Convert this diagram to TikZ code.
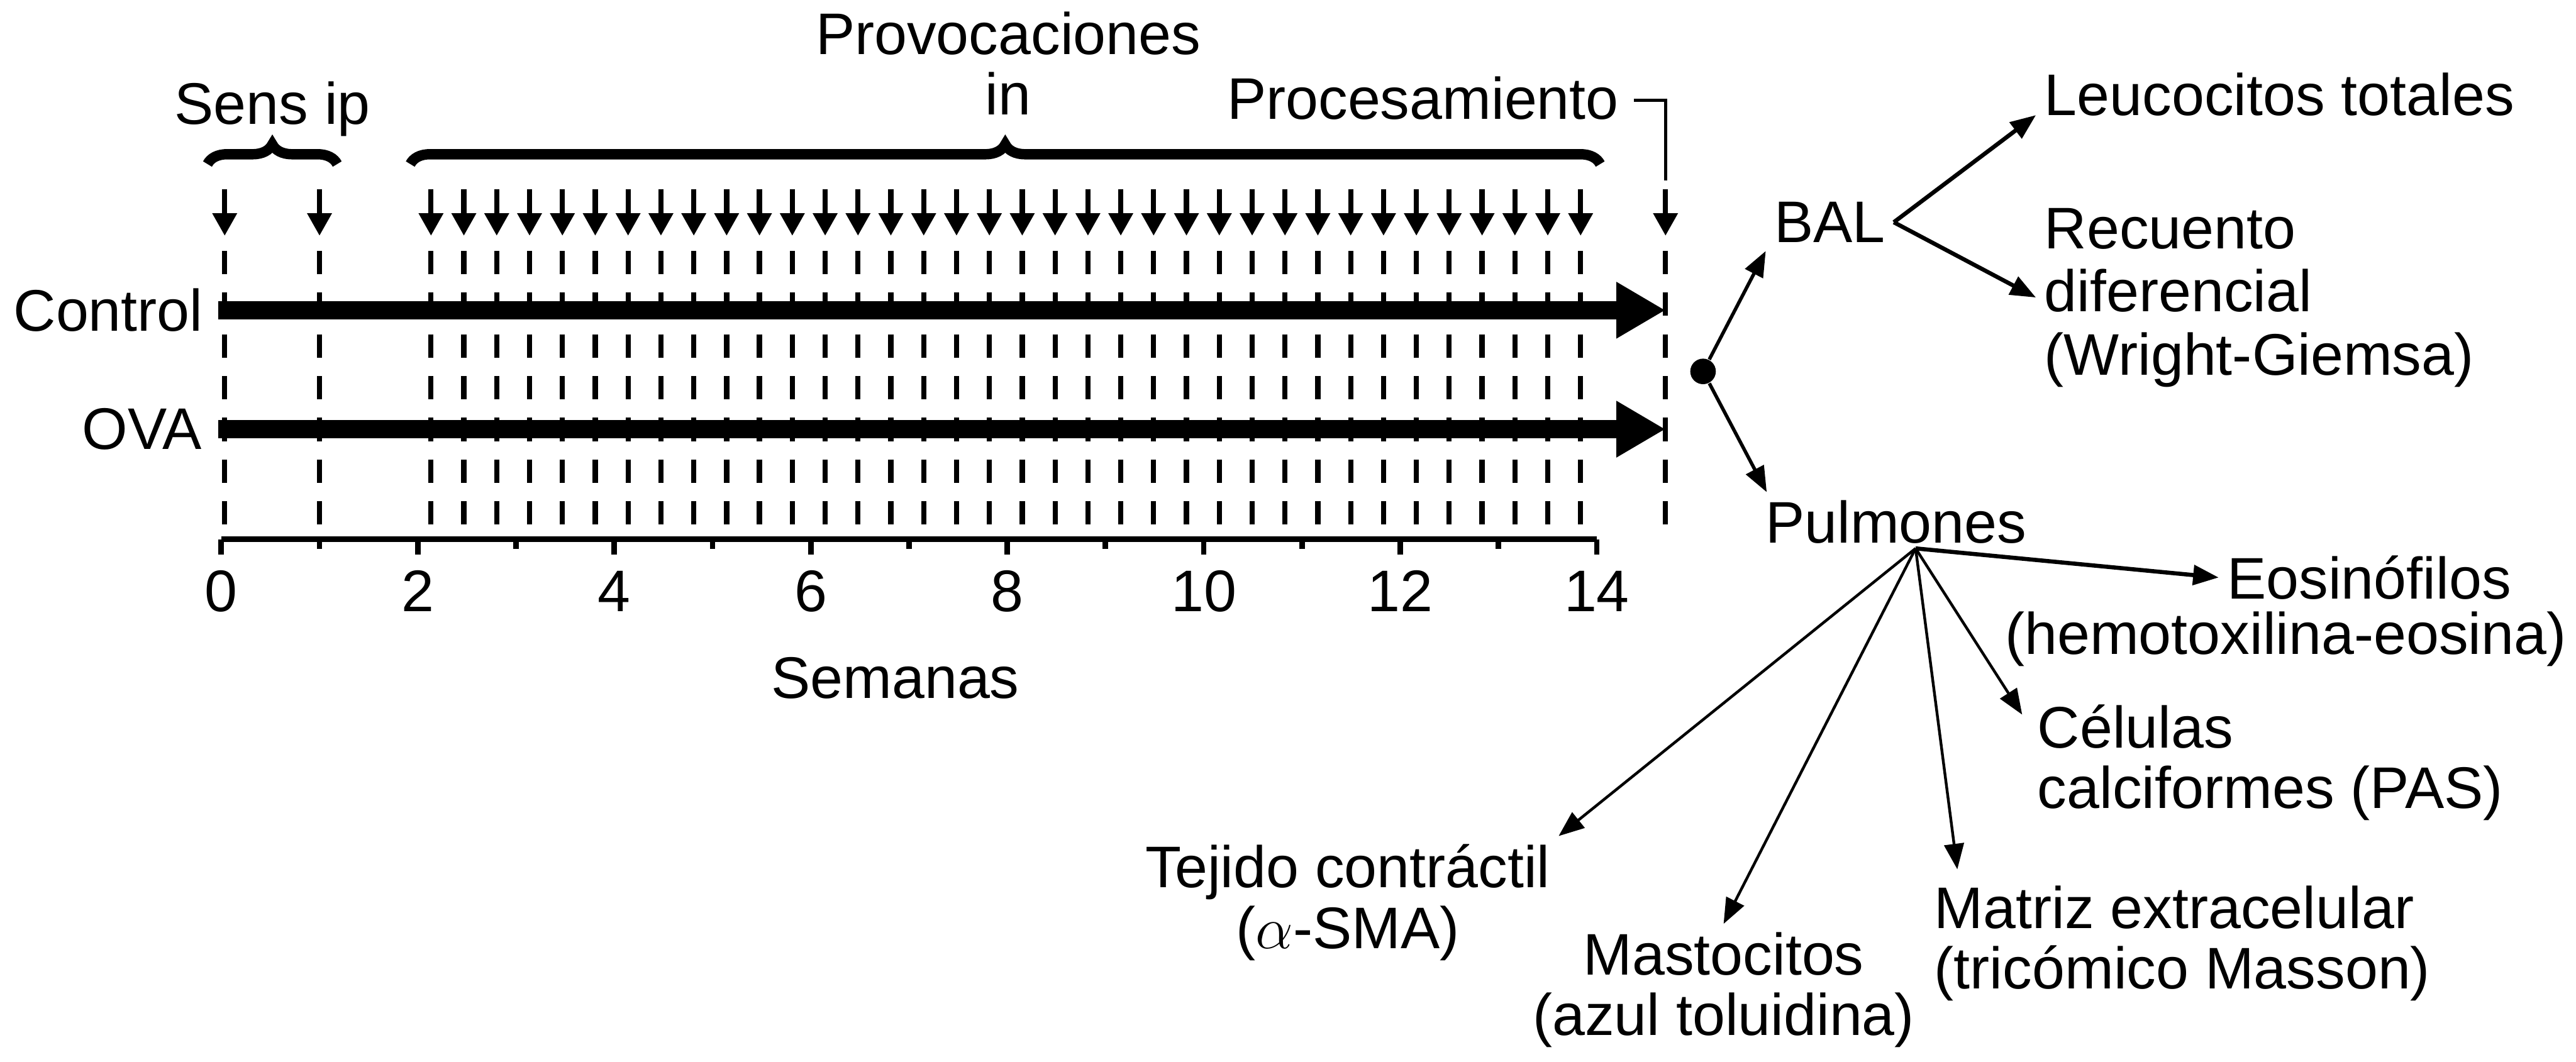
\documentclass[tikz,border=0pt]{standalone}
\usepackage{fontspec}
\setmainfont{Liberation Sans}
\usetikzlibrary{arrows.meta, decorations.pathreplacing}

\begin{document}
\begin{tikzpicture}[
  txt/.style={font=\fontsize{17}{17.5}\selectfont, inner sep=0.08cm},
  guide/.style={line width=1.5pt, dash pattern=on 0.238cm off 0.187cm},
  dose/.style={line width=1.5pt, -{Triangle[length=0.23cm, width=0.24cm]}},
  grp/.style={line width=5.3pt, -{Triangle[length=0.5cm, width=0.54cm]}},
  link/.style={line width=0.8pt, -{Triangle[length=0.26cm, width=0.2cm]}},
  curly/.style={decorate, decoration={brace, amplitude=0.2cm}, line width=3pt}
]
\useasboundingbox (-2.252,-5.320) rectangle (23.967,5.490);

% dashed guides and doses
\foreach \x in {0.035,1.0,14.70} \draw[guide] (\x,2.937) -- (\x,0.153);
\foreach \k in {0,...,35} \draw[guide] ({2.135+\k*0.3343},2.937) -- ++(0,-2.784);
\foreach \x in {0.035,1.0,14.70} \draw[dose] (\x,3.565) -- (\x,3.090);
\foreach \k in {0,...,35} \draw[dose] ({2.135+\k*0.3343},3.565) -- ++(0,-0.475);
\coordinate (pr) at (14.70,3.656);

% braces and labels
\draw[curly] (-0.14,3.82) -- (1.18,3.82);
\draw[curly] (1.924,3.82) -- (14.035,3.82);
\node[txt, anchor=base] (sens) at (0.521,4.227) {Sens ip};
\node[txt, anchor=north, align=center] (prov) at (8.01,5.456) {Provocaciones\\in};
\node[txt, anchor=base east] (proc) at (14.31,4.278) {Procesamiento};
\draw[line width=1pt] ([shift={(0.07,0.19)}]proc.base east) -| (pr);

% groups
\node[txt, anchor=east, inner xsep=0.15cm] (ctrl) at (-0.03,2.332) {Control};
\node[txt, anchor=east, inner xsep=0.16cm] (ova) at (-0.03,1.121) {OVA};
\draw[grp] (ctrl.east) -- (ctrl.east -| pr);
\draw[grp] (ova.east) -- (ova.east -| pr);

% time axis
\draw[line width=1.6pt] (0,0) -- (14,0);
\foreach \w in {0,2,...,14} {
  \draw[line width=1.6pt] (\w,0) -- (\w,-0.153);
  \node[txt, anchor=base] (t\w) at (\w,-0.736) {\w};
}
\foreach \w in {1,3,...,13} \draw[line width=1.6pt] (\w,0) -- (\w,-0.10);
\node[txt, anchor=base] (sem) at (6.86,-1.619) {Semanas};

% processing
\node[circle, fill, inner sep=0, minimum size=0.26cm] (dot) at (15.082,1.709) {};
\node[txt, anchor=base west] (bal) at (15.72,3.022) {BAL};
\node[txt, anchor=base west] (pulm) at (15.63,-0.04) {Pulmones};
\draw[link, line width=1pt] (dot) -- (bal.south west);
\draw[link, line width=1pt] (dot) -- ([xshift=0.1cm]pulm.north west);

\node[txt, anchor=base west] (leuco) at (18.47,4.318) {Leucocitos totales};
\node[txt, font=\fontsize{17}{18.3}\selectfont, anchor=north west, align=left] (recu) at (18.47,3.459) {Recuento\\diferencial\\(Wright-Giemsa)};
\draw[link, line width=1.2pt] (bal.east) -- (leuco.base west);
\draw[link, line width=1.2pt] (bal.east) -- (recu.west);

\coordinate (hub) at ([shift={(0.2,0.04)}]pulm.south);
\node[txt, anchor=base west] (eos) at (20.33,-0.606) {Eosinófilos};
\node[txt, anchor=base west] (eosb) at (18.07,-1.171) {(hemotoxilina-eosina)};
\node[txt, anchor=north west, align=left] (cel) at (18.40,-1.595) {Células\\calciformes (PAS)};
\node[txt, anchor=north west, align=left] (mat) at (17.35,-3.44) {Matriz extracelular\\(tricómico Masson)};
\node[txt, anchor=north, align=center] (mas) at (15.291,-3.915) {Mastocitos\\(azul toluidina)};
\node[txt, anchor=north, align=center] (tej) at (11.466,-3.021) {Tejido contráctil\\($\alpha$-SMA)};
\draw[link, line width=1.2pt] (hub) -- (eos.west);
\draw[link] (hub) -- ([shift={(-0.07,-0.19)}]cel.north west);
\draw[link] (hub) -- ([shift={(0.32,0.08)}]mat.north west);
\draw[link] (hub) -- (mas.north);
\draw[link] (hub) -- (tej.north east);
\end{tikzpicture}
\end{document}
